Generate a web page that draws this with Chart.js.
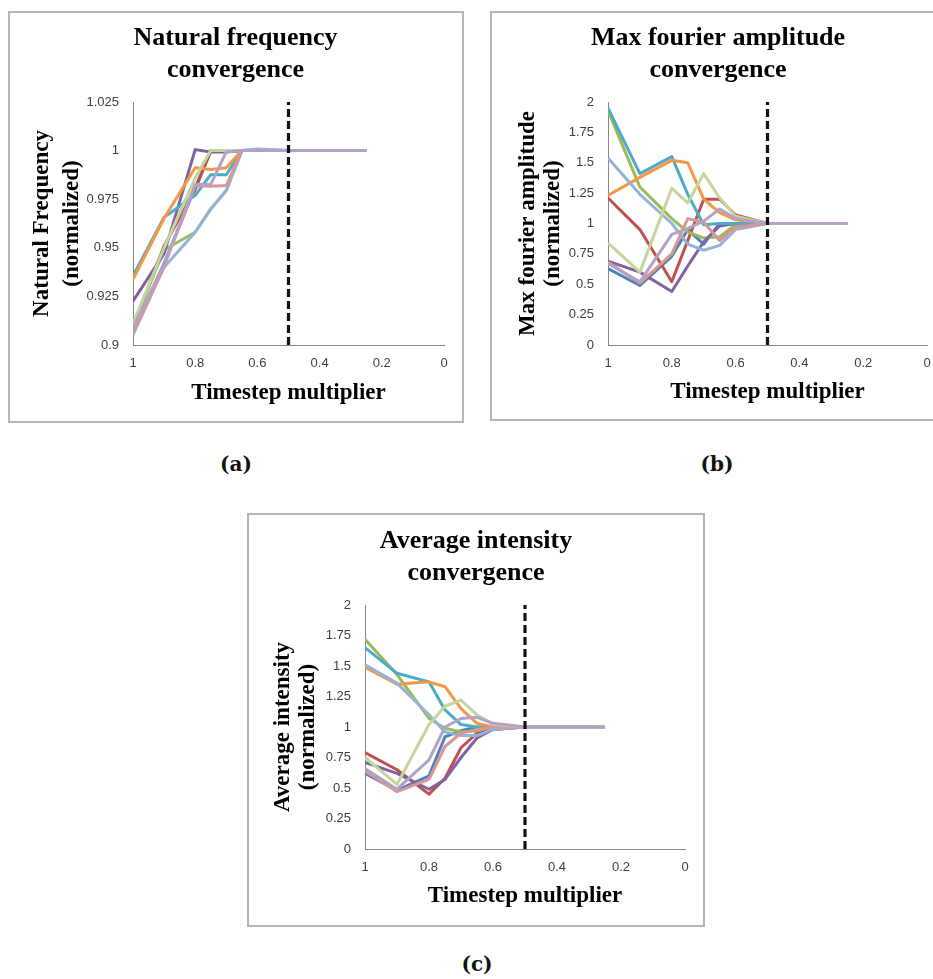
<!DOCTYPE html>
<html>
<head>
<meta charset="utf-8">
<script src="https://cdn.jsdelivr.net/npm/chart.js@4.4.1/dist/chart.umd.min.js"></script>
<style>
html,body{margin:0;padding:0;background:#fff;}
body{width:933px;height:979px;overflow:hidden;position:relative;}
.holder{position:absolute;}
.frame{position:absolute;border:2px solid #b5b5b5;box-sizing:border-box;pointer-events:none;}
.cap{position:absolute;font-family:"DejaVu Serif","Liberation Serif",serif;font-weight:bold;font-size:20px;color:#111;transform:translate(-50%,-50%);white-space:nowrap;}
</style>
</head>
<body>
<div class="holder" style="left:8px;top:11px;width:456px;height:412px"><canvas id="chartA" width="456" height="412"></canvas></div>
<div class="frame" style="left:8px;top:11px;width:456px;height:412px"></div>

<div class="holder" style="left:490px;top:11px;width:456px;height:410px"><canvas id="chartB" width="456" height="410"></canvas></div>
<div class="frame" style="left:490px;top:11px;width:456px;height:410px"></div>

<div class="holder" style="left:247px;top:513px;width:458px;height:414px"><canvas id="chartC" width="458" height="414"></canvas></div>
<div class="frame" style="left:247px;top:513px;width:458px;height:414px"></div>

<div class="cap" style="left:236px;top:464px">(a)</div>
<div class="cap" style="left:717px;top:464px">(b)</div>
<div class="cap" style="left:477px;top:964px">(c)</div>

<script>
// ---------- shared x values (timestep multiplier) ----------
const xValues = [1, 0.9, 0.8, 0.75, 0.7, 0.65, 0.6, 0.5, 0.25];
const cutoffX = 0.5;
const xTickLabels = ['0', '0.2', '0.4', '0.6', '0.8', '1'];

// ---------- (a) Natural frequency ----------
const freqS1  = [0.907, 0.942, 0.981, 0.9995, 0.9995, 1.0, 1.0, 1.0, 1.0];
const freqS2  = [0.909, 0.951, 0.980, 1.0, 1.0, 1.0, 1.0, 1.0, 1.0];
const freqS3  = [0.910, 0.949, 0.958, 0.970, 0.9795, 1.0, 1.0005, 1.0, 1.0];
const freqS4  = [0.9226, 0.947, 1.0005, 0.9993, 0.9993, 1.0, 1.0, 1.0, 1.0];
const freqS5  = [0.9355, 0.9657, 0.977, 0.9876, 0.9876, 1.0, 1.0, 1.0, 1.0];
const freqS6  = [0.9338, 0.9652, 0.9912, 0.9903, 0.9912, 1.0, 1.0, 1.0, 1.0];
const freqS7  = [0.9053, 0.940, 0.958, 0.970, 0.9795, 1.0, 1.0008, 1.0, 1.0];
const freqS8  = [0.906, 0.9405, 0.982, 0.9817, 0.982, 1.0, 1.0, 1.0, 1.0];
const freqS9  = [0.911, 0.950, 0.986, 1.0, 1.0, 1.0, 1.0, 1.0, 1.0];
const freqS10 = [0.909, 0.9415, 0.9826, 0.9826, 0.9993, 1.0, 1.0, 1.0, 1.0];
const freqYLimits = [0.9, 1.025];
const freqYTickLabels = ['0.9', '0.925', '0.95', '0.975', '1', '1.025'];

// ---------- (b) Max fourier amplitude ----------
const ampS1  = [0.63, 0.49, 0.73, 0.95, 0.83, 1.0, 1.0, 1.0, 1.0];
const ampS2  = [1.21, 0.95, 0.52, 0.86, 1.2, 1.2, 1.07, 1.0, 1.0];
const ampS3  = [1.93, 1.30, 1.04, 0.93, 0.88, 0.89, 0.99, 1.0, 1.0];
const ampS4  = [0.69, 0.60, 0.44, 0.65, 0.85, 0.98, 1.0, 1.0, 1.0];
const ampS5  = [1.95, 1.41, 1.55, 1.24, 0.99, 1.0, 1.0, 1.0, 1.0];
const ampS6  = [1.23, 1.38, 1.52, 1.50, 1.20, 1.09, 1.03, 1.0, 1.0];
const ampS7  = [1.54, 1.24, 1.00, 0.83, 0.78, 0.82, 0.95, 1.0, 1.0];
const ampS8  = [0.68, 0.51, 0.75, 1.04, 1.01, 0.86, 0.97, 1.0, 1.0];
const ampS9  = [0.84, 0.60, 1.29, 1.17, 1.41, 1.21, 1.06, 1.0, 1.0];
const ampS10 = [0.67, 0.52, 0.91, 0.96, 1.02, 1.12, 1.04, 1.0, 1.0];

// ---------- (c) Average intensity ----------
const intS1  = [0.62, 0.48, 0.60, 0.92, 0.97, 1.0, 1.0, 1.0, 1.0];
const intS2  = [0.79, 0.65, 0.45, 0.58, 0.83, 0.95, 0.98, 1.0, 1.0];
const intS3  = [1.72, 1.43, 1.07, 0.99, 0.96, 0.97, 1.0, 1.0, 1.0];
const intS4  = [0.71, 0.62, 0.49, 0.57, 0.75, 0.91, 0.98, 1.0, 1.0];
const intS5  = [1.65, 1.44, 1.37, 1.14, 1.02, 1.0, 1.0, 1.0, 1.0];
const intS6  = [1.49, 1.35, 1.37, 1.33, 1.15, 1.03, 1.0, 1.0, 1.0];
const intS7  = [1.51, 1.36, 1.10, 0.96, 0.93, 0.93, 0.98, 1.0, 1.0];
const intS8  = [0.64, 0.47, 0.57, 0.84, 0.95, 0.98, 1.0, 1.0, 1.0];
const intS9  = [0.75, 0.53, 1.02, 1.17, 1.22, 1.10, 1.02, 1.0, 1.0];
const intS10 = [0.66, 0.49, 0.73, 1.00, 1.07, 1.08, 1.03, 1.0, 1.0];
const unitYLimits = [0, 2];
const unitYTickLabels = ['0', '0.25', '0.5', '0.75', '1', '1.25', '1.5', '1.75', '2'];

// ---------- styling ----------
const palette = ['#4F81BD', '#C0504D', '#9BBB59', '#8064A2', '#4BACC6', '#F79646',
                 '#95B3D7', '#D99694', '#C3D69B', '#B3A2C7'];

function makeChart(id, cfg) {
  const datasets = cfg.series.map((vals, i) => ({
    label: 'Series ' + (i + 1),
    data: xValues.map((x, j) => ({ x: x, y: vals[j] })),
    borderColor: palette[i],
    backgroundColor: palette[i],
    borderWidth: 3,
    pointRadius: 0,
    tension: 0,
    fill: false,
    borderJoinStyle: 'round',
    order: cfg.series.length - i
  }));
  datasets.push({
    label: 'cutoff',
    data: [{ x: cutoffX, y: cfg.yLimits[0] }, { x: cutoffX, y: cfg.yLimits[1] }],
    borderColor: '#111',
    borderWidth: 3.2,
    borderDash: [8, 4],
    pointRadius: 0,
    fill: false,
    order: 0
  });

  const tickFont = { family: 'Liberation Sans', size: 13 };
  new Chart(document.getElementById(id), {
    type: 'line',
    data: { datasets },
    options: {
      responsive: false,
      animation: false,
      events: [],
      layout: { padding: { left: cfg.padL, right: cfg.padR, top: 0, bottom: 0 } },
      plugins: {
        legend: { display: false },
        tooltip: { enabled: false },
        title: {
          display: true,
          text: cfg.title,
          color: '#000',
          font: { family: 'Liberation Serif', size: 26, weight: 'bold', lineHeight: 1.2 },
          padding: { top: cfg.titleTop, bottom: cfg.titleBottom }
        }
      },
      scales: {
        x: {
          type: 'linear',
          reverse: true,
          min: 0, max: 1,
          grid: { display: false, drawTicks: false },
          border: { display: true, color: '#868686', width: 1 },
          ticks: {
            stepSize: 0.2,
            font: tickFont, color: '#404040', padding: 11,
            maxRotation: 0, autoSkip: false,
            callback: (v) => xTickLabels[Math.round(v / 0.2)]
          },
          title: {
            display: true,
            text: 'Timestep multiplier',
            color: '#000',
            font: { family: 'Liberation Serif', size: 23, weight: 'bold', lineHeight: 1.2 },
            padding: { top: 0, bottom: cfg.xTitleBottom }
          },
          afterFit: (s) => { s.height = cfg.xHeight; s.paddingLeft = 0; s.paddingRight = 0; }
        },
        y: {
          type: 'linear',
          min: cfg.yLimits[0], max: cfg.yLimits[1],
          grid: { display: false, drawTicks: false },
          border: { display: true, color: '#868686', width: 1 },
          ticks: {
            stepSize: cfg.yStep,
            font: tickFont, color: '#404040', padding: 14,
            autoSkip: false,
            callback: (v) => cfg.yTickLabels[Math.round((v - cfg.yLimits[0]) / cfg.yStep)]
          },
          title: {
            display: true,
            text: cfg.yTitle,
            color: '#000',
            font: { family: 'Liberation Serif', size: 23, weight: 'bold', lineHeight: cfg.yTitleLH },
            padding: { top: cfg.yTitleTop, bottom: 0 }
          },
          afterFit: (s) => { s.width = cfg.yWidth; s.paddingTop = 0; s.paddingBottom = 0; }
        }
      }
    }
  });
}

makeChart('chartA', {
  series: [freqS1, freqS2, freqS3, freqS4, freqS5, freqS6, freqS7, freqS8, freqS9, freqS10],
  yLimits: freqYLimits, yStep: 0.025, yTickLabels: freqYTickLabels,
  title: ['Natural frequency', 'convergence'],
  yTitle: ['Natural Frequency', '(normalized)'],
  padL: 19, padR: 20, titleTop: 12, titleBottom: 16.6,
  yWidth: 106, xHeight: 78, xTitleBottom: 16, yTitleLH: 1.3, yTitleTop: 0
});

makeChart('chartB', {
  series: [ampS1, ampS2, ampS3, ampS4, ampS5, ampS6, ampS7, ampS8, ampS9, ampS10],
  yLimits: unitYLimits, yStep: 0.25, yTickLabels: unitYTickLabels,
  title: ['Max fourier amplitude', 'convergence'],
  yTitle: ['Max fourier amplitude', '(normalized)'],
  padL: 19, padR: 19, titleTop: 12, titleBottom: 16.6,
  yWidth: 99, xHeight: 76, xTitleBottom: 15, yTitleLH: 1.1, yTitleTop: 6
});

makeChart('chartC', {
  series: [intS1, intS2, intS3, intS4, intS5, intS6, intS7, intS8, intS9, intS10],
  yLimits: unitYLimits, yStep: 0.25, yTickLabels: unitYTickLabels,
  title: ['Average intensity', 'convergence'],
  yTitle: ['Average intensity', '(normalized)'],
  padL: 20, padR: 20, titleTop: 13, titleBottom: 16.6,
  yWidth: 98, xHeight: 78, xTitleBottom: 17, yTitleLH: 1.1, yTitleTop: 3
});
</script>
</body>
</html>
